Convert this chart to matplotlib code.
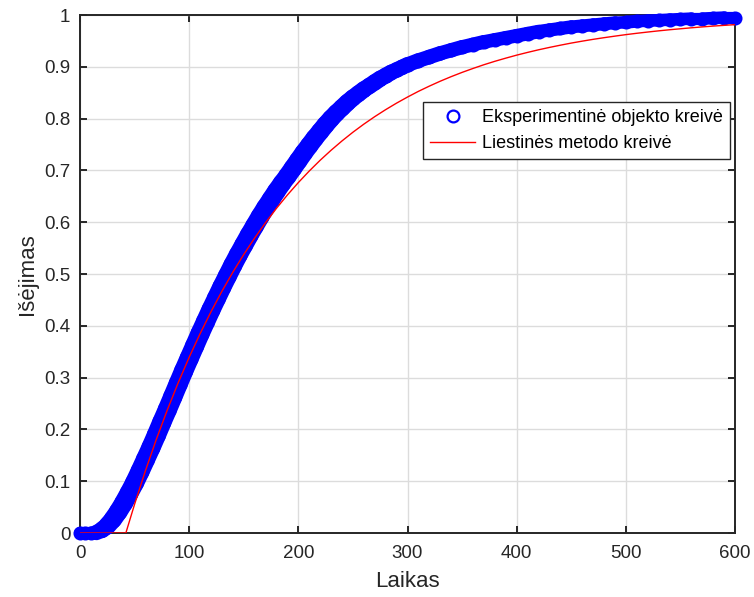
import matplotlib
matplotlib.use("Agg")
import numpy as np
import matplotlib.pyplot as plt
from matplotlib.lines import Line2D
from matplotlib.collections import LineCollection

plt.rcParams['font.family'] = ['Liberation Sans', 'DejaVu Sans']

t_exp = [0, 5, 10, 15, 20, 25, 30, 35, 40, 45, 50, 55, 60, 65, 70, 75, 80, 85, 90, 95,
         100, 105, 110, 115, 120, 125, 130, 135, 140, 145, 150, 155, 160, 165, 170, 175,
         180, 185, 190, 195, 200, 205, 210, 215, 220, 225, 230, 235, 240, 245, 250, 255,
         260, 265, 270, 275, 280, 285, 290, 295, 300, 310, 320, 330, 340, 350, 360, 370,
         380, 390, 400, 410, 420, 430, 440, 450, 460, 470, 480, 490, 500, 510, 520, 530,
         540, 550, 560, 570, 580, 590, 600]
y_exp = [0.000, 0.000, 0.000, 0.001, 0.006, 0.014, 0.026, 0.041, 0.058, 0.077, 0.097,
         0.119, 0.142, 0.165, 0.189, 0.214, 0.238, 0.263, 0.288, 0.313, 0.337, 0.361,
         0.385, 0.408, 0.431, 0.453, 0.475, 0.496, 0.517, 0.537, 0.556, 0.575, 0.593,
         0.611, 0.628, 0.644, 0.660, 0.675, 0.689, 0.704, 0.719, 0.734, 0.748, 0.762,
         0.775, 0.788, 0.800, 0.811, 0.821, 0.831, 0.840, 0.848, 0.856, 0.863, 0.870,
         0.877, 0.883, 0.889, 0.894, 0.899, 0.904, 0.912, 0.919, 0.926, 0.932, 0.938,
         0.943, 0.948, 0.952, 0.956, 0.960, 0.964, 0.968, 0.971, 0.974, 0.977, 0.979,
         0.981, 0.983, 0.985, 0.986, 0.988, 0.989, 0.990, 0.991, 0.992, 0.993, 0.993,
         0.994, 0.995, 0.995]

# Tangent method model curve
t_model = [0, 42, 50, 60, 70, 80, 90, 100, 110, 120, 130, 140, 150, 160, 170, 180, 190,
           200, 210, 220, 230, 240, 250, 260, 270, 280, 290, 300, 310, 320, 330, 340, 350,
           360, 370, 380, 390, 400, 410, 420, 430, 440, 450, 460, 470, 480, 490, 500, 510,
           520, 530, 540, 550, 560, 570, 580, 590, 600]
y_model = [0.0, 0.0, 0.0555, 0.1207, 0.1813, 0.2377, 0.2903, 0.3392, 0.3848, 0.4272,
           0.4667, 0.5034, 0.5377, 0.5695, 0.5992, 0.6269, 0.6526, 0.6765, 0.6988, 0.7196,
           0.7389, 0.7569, 0.7737, 0.7893, 0.8038, 0.8173, 0.8299, 0.8416, 0.8526, 0.8627,
           0.8722, 0.8810, 0.8892, 0.8968, 0.9040, 0.9106, 0.9167, 0.9225, 0.9278, 0.9328,
           0.9374, 0.9417, 0.9458, 0.9495, 0.9530, 0.9562, 0.9592, 0.9621, 0.9647, 0.9671,
           0.9694, 0.9715, 0.9734, 0.9753, 0.9770, 0.9786, 0.9800, 0.9814]

xticks = [0, 100, 200, 300, 400, 500, 600]
yticks = [0, 0.1, 0.2, 0.3, 0.4, 0.5, 0.6, 0.7, 0.8, 0.9, 1]
ytick_labels = ['0', '0.1', '0.2', '0.3', '0.4', '0.5', '0.6', '0.7', '0.8', '0.9', '1']

label_exp = 'Eksperimentinė objekto kreivė'
label_model = 'Liestinės metodo kreivė'

W, H = 754, 597
fig = plt.figure(figsize=(W / 100, H / 100), dpi=100)
ax = fig.add_axes([80 / W, 1 - 533 / H, 655 / W, 518 / H])
ax.set_xlim(0, 600)
ax.set_ylim(0, 1)

blue = '#0000ff'
# band of dense markers: drawn as a stroke whose width follows the on-screen slope
te = np.asarray(t_exp, float)
ye = np.asarray(y_exp, float)
pts = np.column_stack([te, ye])
segs = np.stack([pts[:-1], pts[1:]], axis=1)
disp = ax.transData.transform(pts)
d = np.diff(disp, axis=0)
sin_ang = np.abs(d[:, 1]) / np.hypot(d[:, 0], d[:, 1])
widths = 8.8 + 5.5 * sin_ang
band = LineCollection(segs, colors=blue, linewidths=widths, capstyle='round',
                      joinstyle='round', zorder=3, clip_on=False)
ax.add_collection(band)
ax.plot(t_exp, y_exp, 'o', mfc='none', mec=blue, ms=8.5, mew=1.6, zorder=3,
        clip_on=False)
ax.plot(t_model, y_model, color='#ff0000', lw=1.0, zorder=4)

ax.set_xticks(xticks)
ax.set_yticks(yticks)
ax.set_yticklabels(ytick_labels)

axcol = '#262626'
ax.grid(True, color='#dcdcdc', lw=1.0, zorder=0)
ax.set_axisbelow(True)
for s in ax.spines.values():
    s.set_color(axcol)
    s.set_linewidth(1.4)
ax.tick_params(direction='in', length=5, width=1.4, colors=axcol, labelsize=13.5,
               top=True, right=True, pad=7)
ax.tick_params(axis='x', pad=9)

ax.set_xlabel('Laikas', fontsize=16, color='#262626', labelpad=6)
ax.set_ylabel('Išėjimas', fontsize=16, color='#262626', labelpad=4)

handles = [
    Line2D([], [], ls='none', marker='o', mfc='none', mec=blue, ms=8.5, mew=1.6),
    Line2D([], [], color='#ff0000', lw=1.0),
]
leg = ax.legend(handles, [label_exp, label_model], loc='upper right',
                bbox_to_anchor=(0.992, 0.832), borderaxespad=0, fontsize=13,
                frameon=True, fancybox=False, framealpha=1, edgecolor=axcol,
                handlelength=2.5, handletextpad=0.35, labelspacing=0.5,
                borderpad=0.4)
leg.get_frame().set_linewidth(1.0)
for txt in leg.get_texts():
    txt.set_color('#000000')

fig.savefig('out.png', dpi=100)
